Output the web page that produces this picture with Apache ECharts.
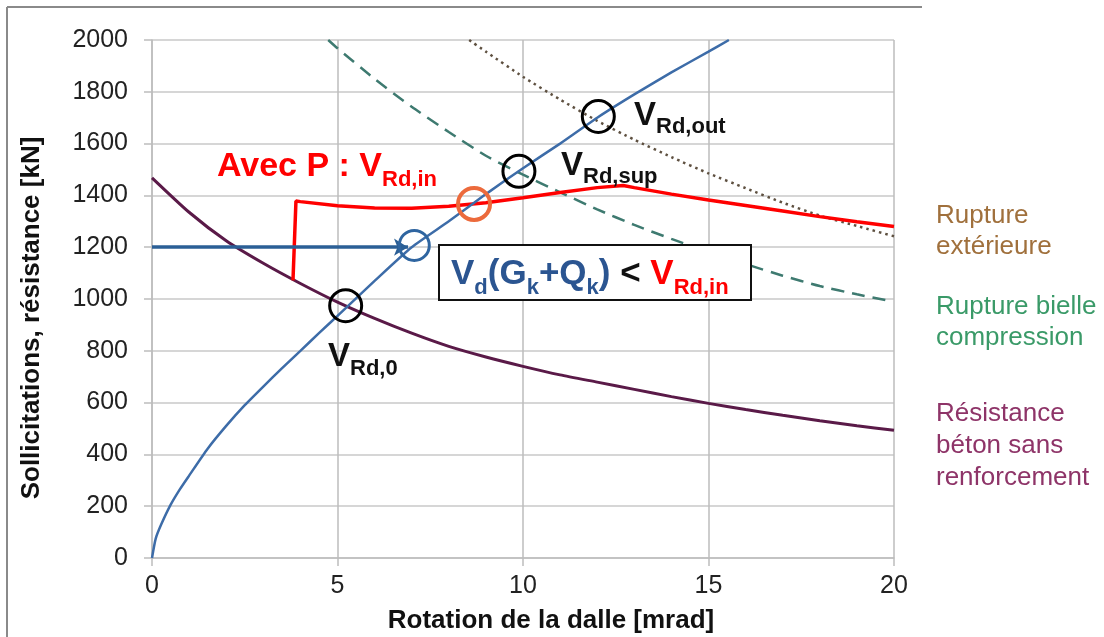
<!DOCTYPE html>
<html>
<head>
<meta charset="utf-8">
<script src="https://cdn.jsdelivr.net/npm/echarts@6/dist/echarts.min.js"></script>
<style>
  html, body { margin: 0; padding: 0; background: #fff; }
  #chart { width: 1104px; height: 637px; }
</style>
</head>
<body>
<div id="chart"></div>
<script>
// points [rotation en mrad, effort en kN]
const sollicitation = [[0,0],[0.1,75],[0.25,130],[0.5,205],[0.75,265],[1,318],[1.5,422],[2,510],[2.5,590],[3,662],[3.5,732],[4,800],[4.5,868],[5,935],[6,1070],[7,1200],[8,1300],[9,1405],[10,1505],[11,1600],[12,1700],[13,1790],[14,1875],[15,1955],[15.55,2000]];
const resistanceBeton = [[0,1468],[1,1335],[2,1225],[3,1138],[4,1060],[5,988],[6,925],[7,868],[8,817],[9,776],[10,740],[11,707],[12,679],[13,651],[14,623],[15,597],[16,573],[17,551],[18,530],[19,511],[20,493]];
const avecP = [[3.8,1072],[3.88,1378],[4,1376],[5,1360],[6,1351],[7,1350],[8,1358],[9,1372],[10,1391],[11,1411],[12,1430],[12.7,1438],[13,1430],[14,1405],[15,1382],[16,1361],[17,1340],[18,1318],[19,1298],[20,1280]];
const bielle = [[4.75,2000],[5,1968],[6,1850],[7,1742],[8,1645],[9,1553],[10,1480],[11,1412],[12,1346],[13,1286],[14,1232],[15,1182],[16,1135],[17,1090],[18,1050],[19,1018],[19.8,995]];
const exterieure = [[8.55,2000],[9,1955],[10,1858],[11,1770],[12,1688],[13,1615],[14,1548],[15,1485],[16,1428],[17,1372],[18,1322],[19,1282],[20,1242]];

// cercles d'intersection
const cerclesNoirs = [[5.22,974],[9.89,1493],[12.03,1705]];
const cercleOrange = [[8.68,1367]];
const cercleBleu = [[7.07,1207]];

// flèche Vd(Gk+Qk)
const chargeVd = 1200;
const flecheDebut = 0;
const flecheFin = 6.9;

const FONT = '"Liberation Sans", Arial, sans-serif';
const BLEU = '#2b5591', ROUGE = '#ff0000', NOIR = '#111';

const measure = document.createElement('canvas').getContext('2d');

// morceaux de texte posés les uns après les autres (indices)
function seq(x, pieces) {
  const out = [];
  pieces.forEach(function (p) {
    const font = 'bold ' + p[1] + 'px ' + FONT;
    measure.font = font;
    out.push({
      type: 'text', x: x, y: p[3], z: 100,
      style: { text: p[0], font: font, fill: p[2], align: 'left', verticalAlign: 'middle' }
    });
    x += measure.measureText(p[0]).width;
  });
  return out;
}

function txt(x, y, s, color) {
  return {
    type: 'text', x: x, y: y, z: 100,
    style: { text: s, fill: color, align: 'left', verticalAlign: 'middle', font: '26px ' + FONT }
  };
}

const chart = echarts.init(document.getElementById('chart'));

const option = {
  animation: false,
  backgroundColor: '#fff',
  grid: { left: 152, right: 210, top: 40, bottom: 79 },
  xAxis: {
    type: 'value', min: 0, max: 20, interval: 5,
    axisLine: { show: true, lineStyle: { color: '#bdbdbd', width: 1.5 } },
    axisTick: { show: true, length: 8, lineStyle: { color: '#bdbdbd', width: 1.5 } },
    axisLabel: { margin: 16, fontSize: 25, color: '#222', fontFamily: FONT },
    splitLine: { show: true, lineStyle: { color: '#bdbdbd', width: 1.5 } }
  },
  yAxis: {
    type: 'value', min: 0, max: 2000, interval: 200,
    axisLine: { show: true, lineStyle: { color: '#bdbdbd', width: 1.5 } },
    axisTick: { show: true, length: 8, lineStyle: { color: '#bdbdbd', width: 1.5 } },
    axisLabel: { margin: 24, fontSize: 25, color: '#222', fontFamily: FONT, formatter: function (v) { return String(v); } },
    splitLine: { show: true, lineStyle: { color: '#c8c8c8', width: 1.5 } }
  },
  series: [
    {
      name: 'Résistance béton sans renforcement', type: 'line', data: resistanceBeton,
      showSymbol: false, smooth: 0.2,
      lineStyle: { color: '#5a1a48', width: 3 }, z: 3
    },
    {
      name: 'Rupture bielle compression', type: 'line', data: bielle,
      showSymbol: false, smooth: 0.2,
      lineStyle: { color: '#3e7a70', width: 2.5, type: [13, 8] }, z: 3
    },
    {
      name: 'Rupture extérieure', type: 'line', data: exterieure,
      showSymbol: false, smooth: 0.2,
      lineStyle: { color: '#5e5040', width: 2.5, type: [2.5, 4] }, z: 3
    },
    {
      name: 'Avec P', type: 'line', data: avecP,
      showSymbol: false, smooth: false,
      lineStyle: { color: ROUGE, width: 3.5 }, z: 4
    },
    {
      name: 'Sollicitation', type: 'line', data: sollicitation,
      showSymbol: false, smooth: 0.2,
      lineStyle: { color: '#3d6ca8', width: 2.5 }, z: 5,
      markLine: {
        silent: true, animation: false,
        symbol: ['none', 'arrow'], symbolSize: [13, 14],
        label: { show: false },
        lineStyle: { color: '#2b5f96', width: 3.5, type: 'solid' },
        data: [[{ coord: [flecheDebut, chargeVd] }, { coord: [flecheFin, chargeVd] }]]
      }
    },
    {
      type: 'scatter', data: cerclesNoirs, symbol: 'circle', symbolSize: 32, z: 10, silent: true,
      itemStyle: { color: 'rgba(0,0,0,0)', borderColor: '#000', borderWidth: 3, opacity: 1 }
    },
    {
      type: 'scatter', data: cercleOrange, symbol: 'circle', symbolSize: 32, z: 10, silent: true,
      itemStyle: { color: 'rgba(0,0,0,0)', borderColor: '#ec6a3c', borderWidth: 4, opacity: 1 }
    },
    {
      type: 'scatter', data: cercleBleu, symbol: 'circle', symbolSize: 30, z: 10, silent: true,
      itemStyle: { color: 'rgba(0,0,0,0)', borderColor: '#2f65a0', borderWidth: 3, opacity: 1 }
    }
  ],
  graphic: [
    // cadre
    { type: 'line', z: 1, shape: { x1: 7, y1: 7, x2: 922, y2: 7 }, style: { stroke: '#8a8a8a', lineWidth: 2 } },
    { type: 'line', z: 1, shape: { x1: 7, y1: 7, x2: 7, y2: 637 }, style: { stroke: '#8a8a8a', lineWidth: 2 } },
    // titres d'axes
    {
      type: 'text', x: 32, y: 318, rotation: Math.PI / 2, z: 100,
      style: { text: 'Sollicitations, résistance [kN]', fill: NOIR, align: 'center', verticalAlign: 'middle', font: 'bold 26px ' + FONT }
    },
    {
      type: 'text', x: 551, y: 621, z: 100,
      style: { text: 'Rotation de la dalle [mrad]', fill: NOIR, align: 'center', verticalAlign: 'middle', font: 'bold 26px ' + FONT }
    },
    // encadré
    { type: 'rect', z: 90, shape: { x: 439, y: 245, width: 312, height: 55 }, style: { fill: '#fff', stroke: NOIR, lineWidth: 2 } }
  ].concat(
    seq(328, [['V', 33, NOIR, 357], ['Rd,0', 22, NOIR, 369]]),
    seq(561, [['V', 33, NOIR, 166], ['Rd,sup', 22, NOIR, 177]]),
    seq(634, [['V', 33, NOIR, 116], ['Rd,out', 22, NOIR, 127]]),
    seq(217, [['Avec P : V', 34, ROUGE, 167], ['Rd,in', 22, ROUGE, 180]]),
    seq(451, [
      ['V', 35, BLEU, 274], ['d', 22, BLEU, 288], ['(G', 35, BLEU, 274], ['k', 22, BLEU, 288],
      ['+Q', 35, BLEU, 274], ['k', 22, BLEU, 288], [')', 35, BLEU, 274], [' < ', 35, NOIR, 274],
      ['V', 35, ROUGE, 274], ['Rd,in', 22, ROUGE, 288]
    ]),
    [
      // légendes à droite
      txt(936, 216, 'Rupture', '#a0703c'),
      txt(936, 247, 'extérieure', '#a0703c'),
      txt(936, 307, 'Rupture bielle', '#3a9a68'),
      txt(936, 338, 'compression', '#3a9a68'),
      txt(936, 414, 'Résistance', '#8e3468'),
      txt(936, 446, 'béton sans', '#8e3468'),
      txt(936, 478, 'renforcement', '#8e3468')
    ]
  )
};

chart.setOption(option);
</script>
</body>
</html>
